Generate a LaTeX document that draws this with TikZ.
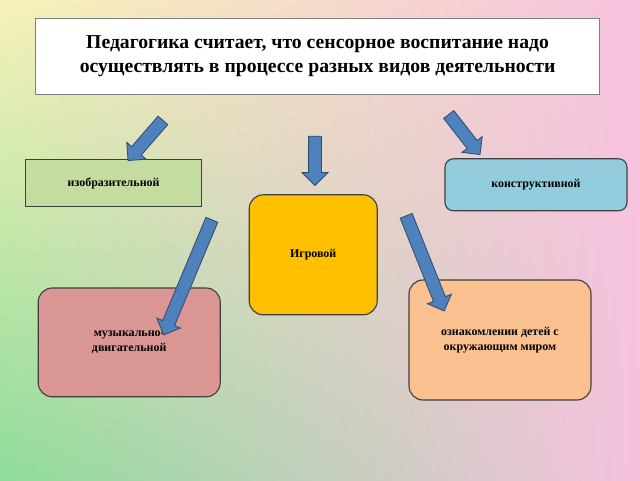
\documentclass[tikz,border=0pt]{standalone}
\usepackage{fontspec}
\setmainfont{Liberation Serif}
\usetikzlibrary{shapes.arrows,shadings}

\definecolor{bgyellow}{HTML}{F6F2B8}
\definecolor{bgpink}{HTML}{F6C2DE}
\definecolor{bggreen}{HTML}{8EDC9A}
\definecolor{arrowblue}{HTML}{4F81BD}

\tikzset{
    box/.style={draw=black!75, line width=0.8pt, align=center,
                font=\bfseries\fontsize{8.5}{10.5}\selectfont},
    blockarrow/.style={single arrow, draw=arrowblue!60!black, fill=arrowblue,
                inner sep=0.15cm, single arrow head extend=0.16cm,
                single arrow head indent=0pt, line width=0.6pt}
}

\begin{document}
\begin{tikzpicture}
    % Hintergrund
    \useasboundingbox (0,0) rectangle (16,12);
    \shade[upper left=bgyellow, upper right=bgpink, lower left=bggreen,
           lower right=bgpink] (0,0) rectangle (16,12);

    % Titel
    \node[box, fill=white, draw=black!50, minimum width=14.1cm, minimum height=1.9cm,
          font=\bfseries\fontsize{14}{17}\selectfont] (title) at (7.94,10.59)
          {Педагогика считает, что сенсорное воспитание надо\\
           осуществлять в процессе разных видов деятельности};

    % Kaesten
    \node[box, fill={rgb,255:red,197;green,220;blue,160}, minimum width=4.4cm,
          minimum height=1.17cm] (izo) at (2.84,7.42) {изобразительной};
    \node[box, fill={rgb,255:red,147;green,205;blue,221}, rounded corners=6pt,
          minimum width=4.55cm, minimum height=1.3cm] (konstr) at (13.4,7.38) {конструктивной};
    \node[box, fill={rgb,255:red,255;green,192;blue,0}, rounded corners=10pt,
          minimum width=3.2cm, minimum height=3cm] (igra) at (7.83,5.63) {Игровой};
    \node[box, fill={rgb,255:red,217;green,150;blue,148},
          rounded corners=10pt, minimum width=4.55cm, minimum height=2.72cm]
          (muz) at (3.23,3.44) {музыкально-\\двигательной};
    \node[box, fill={rgb,255:red,250;green,192;blue,144}, rounded corners=10pt,
          minimum width=4.55cm, minimum height=3cm]
          (oznak) at (12.5,3.5) {ознакомлении детей с\\окружающим миром};

    % Pfeile
    \node[blockarrow, minimum height=1.33cm, rotate=-131] (a1) at (3.69,8.55) {};
    \node[blockarrow, minimum height=1.23cm, rotate=-90] (a2) at (7.875,8.06) {};
    \node[blockarrow, minimum height=1.27cm, rotate=-52] (a3) at (11.56,8.7) {};
    \node[blockarrow, minimum height=3.12cm, rotate=-112.7] (a4) at (4.725,5.14) {};
    \node[blockarrow, minimum height=2.56cm, rotate=-68.2] (a5) at (10.6,5.49) {};
\end{tikzpicture}
\end{document}
